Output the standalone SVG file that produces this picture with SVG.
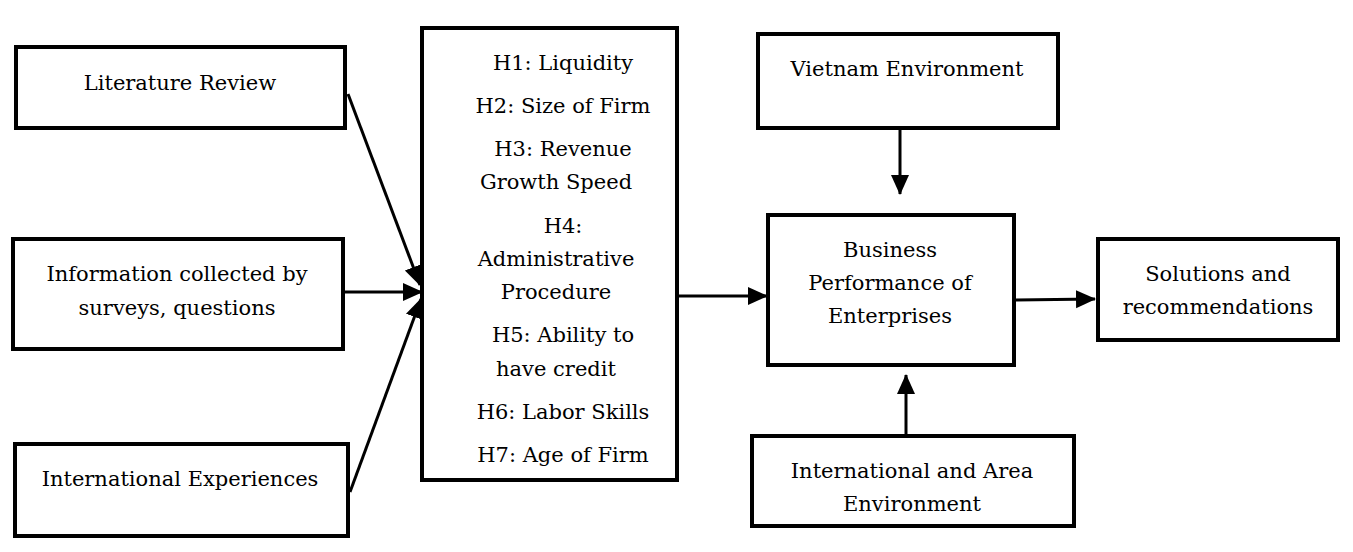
<svg xmlns="http://www.w3.org/2000/svg" width="1353" height="552" viewBox="0 0 1353 552">
<style>
.box{fill:#fff;stroke:#000;stroke-width:4}
.t{font-family:"DejaVu Serif","Liberation Serif",serif;font-size:21px;fill:#000;text-anchor:middle}
.c{stroke:#000;stroke-width:3;fill:none}
</style>
<defs>
<marker id="ah" markerUnits="userSpaceOnUse" markerWidth="20" markerHeight="20" refX="19" refY="10" orient="auto">
<path d="M0,1 L20,10 L0,19 Z" fill="#000"/>
</marker>
</defs>
<rect width="1353" height="552" fill="#fff"/>
<g id="connectors">
<line class="c" x1="348" y1="94" x2="420" y2="285" marker-end="url(#ah)"/>
<line class="c" x1="344" y1="292" x2="422" y2="292" marker-end="url(#ah)"/>
<line class="c" x1="350" y1="492" x2="421" y2="299" marker-end="url(#ah)"/>
<line class="c" x1="679" y1="296" x2="767" y2="296" marker-end="url(#ah)"/>
<line class="c" x1="900" y1="130" x2="900" y2="194" marker-end="url(#ah)"/>
<line class="c" x1="906" y1="434" x2="906" y2="375" marker-end="url(#ah)"/>
<line class="c" x1="1015" y1="300" x2="1095" y2="299" marker-end="url(#ah)"/>
</g>
<g id="literature">
<rect class="box" x="16" y="47" width="329" height="81"/>
<text class="t" x="180" y="90">Literature Review</text>
</g>
<g id="information">
<rect class="box" x="13" y="239" width="330" height="110"/>
<text class="t" x="177" y="281">Information collected by</text>
<text class="t" x="177" y="315">surveys, questions</text>
</g>
<g id="intl-exp">
<rect class="box" x="15" y="444" width="333" height="92"/>
<text class="t" x="180" y="486">International Experiences</text>
</g>
<g id="hypotheses">
<rect class="box" x="422" y="28" width="255" height="452"/>
<text class="t" x="563" y="70">H1: Liquidity</text>
<text class="t" x="563" y="113">H2: Size of Firm</text>
<text class="t" x="563" y="156">H3: Revenue</text>
<text class="t" x="556" y="189">Growth Speed</text>
<text class="t" x="563" y="233">H4:</text>
<text class="t" x="556" y="266">Administrative</text>
<text class="t" x="556" y="299">Procedure</text>
<text class="t" x="563" y="342">H5: Ability to</text>
<text class="t" x="556" y="376">have credit</text>
<text class="t" x="563" y="419">H6: Labor Skills</text>
<text class="t" x="563" y="462">H7: Age of Firm</text>
</g>
<g id="vietnam">
<rect class="box" x="758" y="34" width="300" height="94"/>
<text class="t" x="907" y="76">Vietnam Environment</text>
</g>
<g id="business">
<rect class="box" x="768" y="215" width="246" height="150"/>
<text class="t" x="890" y="257">Business</text>
<text class="t" x="890" y="290">Performance of</text>
<text class="t" x="890" y="323">Enterprises</text>
</g>
<g id="solutions">
<rect class="box" x="1098" y="239" width="240" height="101"/>
<text class="t" x="1218" y="281">Solutions and</text>
<text class="t" x="1218" y="314">recommendations</text>
</g>
<g id="intl-area">
<rect class="box" x="752" y="436" width="322" height="90"/>
<text class="t" x="912" y="478">International and Area</text>
<text class="t" x="912" y="511">Environment</text>
</g>
</svg>
